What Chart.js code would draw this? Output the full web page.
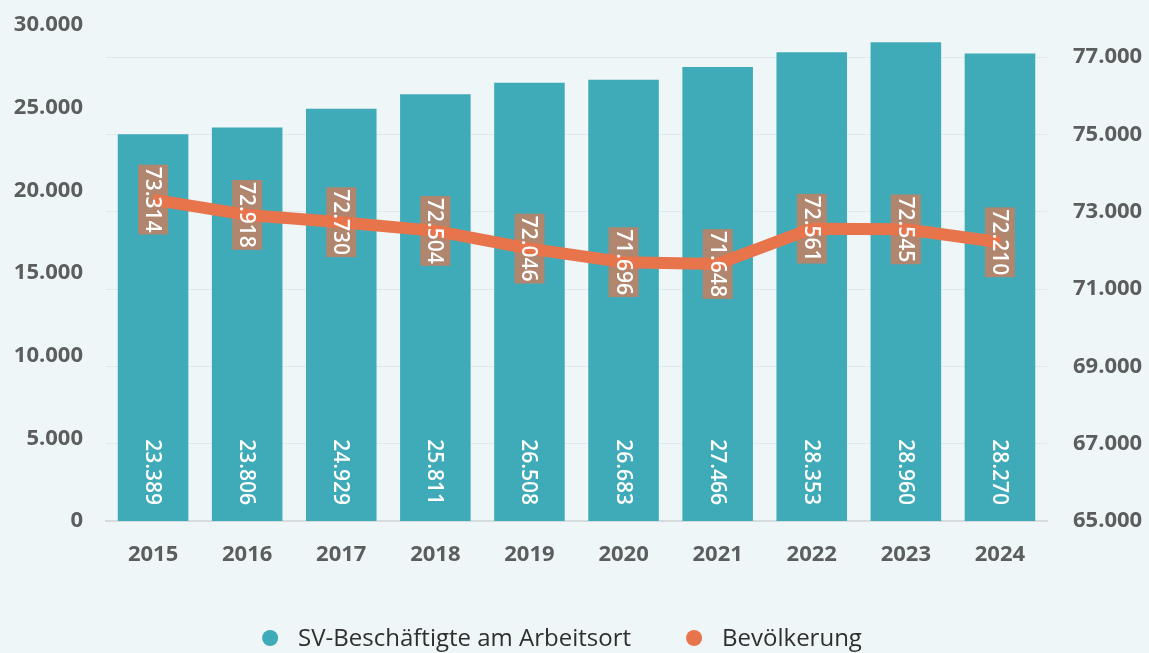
<!DOCTYPE html>
<html><head><meta charset="utf-8">
<script src="https://cdn.jsdelivr.net/npm/chart.js@4"></script>
<style>html,body{margin:0;padding:0;background:#EEF6F8;}canvas{display:block}</style>
</head><body>
<canvas id="c" width="1149" height="653"></canvas>
<script>
const years = ['2015','2016','2017','2018','2019','2020','2021','2022','2023','2024'];
const beschaeftigte = [23389, 23806, 24929, 25811, 26508, 26683, 27466, 28353, 28960, 28270];
const bevoelkerung = [73314, 72918, 72730, 72504, 72046, 71696, 71648, 72561, 72545, 72210];
const leftTicks = [0, 5000, 10000, 15000, 20000, 25000, 30000];
const rightTicks = [65000, 67000, 69000, 71000, 73000, 75000, 77000];
const seriesNames = ['SV-Beschäftigte am Arbeitsort', 'Bevölkerung'];

const BAR = '#3FABB8', LINE = '#E8744C', BOX = '#B0866E', TICK = '#5c5d5e';
const FAM = '"Open Sans", "Noto Sans", sans-serif';
const VAL_FONT = '600 21px ' + FAM;

function fmt(v){ return String(Math.round(v)).replace(/\B(?=(\d{3})+(?!\d))/g, '.'); }

const labelPlugin = {
  id: 'valueLabels',
  beforeDatasetDraw(chart, args){
    if (args.index !== 1) return;
    const ctx = chart.ctx, meta = chart.getDatasetMeta(1);
    ctx.save();
    ctx.font = VAL_FONT;
    meta.data.forEach((pt, i) => {
      const w = ctx.measureText(fmt(bevoelkerung[i])).width;
      const L = w + 4, T = 30;
      ctx.fillStyle = BOX;
      ctx.fillRect(pt.x - T/2, pt.y - L/2, T, L);
    });
    ctx.restore();
  },
  afterDatasetsDraw(chart){
    const ctx = chart.ctx;
    ctx.save();
    ctx.font = VAL_FONT;
    ctx.fillStyle = '#ffffff';
    ctx.textBaseline = 'middle';
    chart.getDatasetMeta(0).data.forEach((bar, i) => {
      ctx.save();
      ctx.translate(bar.x, bar.base - 16);
      ctx.rotate(Math.PI/2);
      ctx.textAlign = 'right';
      ctx.fillText(fmt(beschaeftigte[i]), 0, 1);
      ctx.restore();
    });
    chart.getDatasetMeta(1).data.forEach((pt, i) => {
      ctx.save();
      ctx.translate(pt.x, pt.y);
      ctx.rotate(Math.PI/2);
      ctx.textAlign = 'center';
      ctx.fillText(fmt(bevoelkerung[i]), 0, 1);
      ctx.restore();
    });
    ctx.restore();
  },
  afterDraw(chart){
    const ctx = chart.ctx;
    ctx.save();
    ctx.font = '24px ' + FAM;
    ctx.textBaseline = 'middle';
    ctx.textAlign = 'left';
    const ds = chart.data.datasets;
    const r = 8, gapText = 20, gapItem = 55;
    const widths = ds.map(d => ctx.measureText(d.label).width);
    let total = 0;
    widths.forEach((w, i) => { total += 2*r + gapText + w + (i ? gapItem : 0); });
    let x = 562 - total/2;
    const y = 638;
    ds.forEach((d, i) => {
      ctx.fillStyle = d.legendColor;
      ctx.beginPath(); ctx.arc(x + r, y, r, 0, Math.PI*2); ctx.fill();
      ctx.fillStyle = '#2f2f2f';
      ctx.fillText(d.label, x + 2*r + gapText, y + 1);
      x += 2*r + gapText + widths[i] + gapItem;
    });
    ctx.restore();
  }
};

const bgPlugin = {
  id: 'bg',
  beforeDraw(chart){
    const ctx = chart.ctx;
    ctx.save(); ctx.fillStyle = '#EEF6F8';
    ctx.fillRect(0, 0, chart.width, chart.height); ctx.restore();
  }
};

new Chart(document.getElementById('c'), {
  data: {
    labels: years,
    datasets: [
      { type: 'bar', label: seriesNames[0], data: beschaeftigte, yAxisID: 'y',
        backgroundColor: BAR, legendColor: BAR, barPercentage: 0.75, categoryPercentage: 1, order: 2 },
      { type: 'line', label: seriesNames[1], data: bevoelkerung, yAxisID: 'y1',
        borderColor: LINE, backgroundColor: LINE, legendColor: LINE, borderWidth: 12,
        pointRadius: 0, tension: 0, borderJoinStyle: 'round', borderCapStyle: 'butt', order: 1 }
    ]
  },
  options: {
    responsive: false,
    animation: false,
    devicePixelRatio: 1,
    layout: { padding: { top: 25, bottom: 52, left: 0, right: 0 } },
    plugins: { legend: { display: false }, tooltip: { enabled: false } },
    scales: {
      x: {
        grid: { display: false },
        border: { display: true, color: '#d6dcdd', width: 2 },
        ticks: { color: TICK, font: { family: FAM, size: 22, weight: '700' }, padding: 13 },
        afterFit(s){ s.height = 80; }
      },
      y: {
        position: 'left', min: 0, max: 30000,
        afterBuildTicks(s){ s.ticks = leftTicks.map(v => ({ value: v })); },
        grid: { display: false },
        border: { display: false },
        ticks: { color: TICK, font: { family: FAM, size: 22, weight: '700' }, padding: 15,
                 callback: v => fmt(v) },
        afterFit(s){ s.width = 106; s.paddingTop = 0; s.paddingBottom = 0; }
      },
      y1: {
        position: 'right', min: 65000, max: 77830,
        afterBuildTicks(s){ s.ticks = rightTicks.map(v => ({ value: v })); },
        grid: { color: 'rgba(170,195,200,0.25)', lineWidth: 1, drawTicks: false },
        border: { display: false },
        ticks: { color: TICK, font: { family: FAM, size: 22, weight: '700' }, padding: 26,
                 callback: v => fmt(v) },
        afterFit(s){ s.width = 102; s.paddingTop = 0; s.paddingBottom = 0; }
      }
    }
  },
  plugins: [bgPlugin, labelPlugin]
});
</script>
</body></html>
